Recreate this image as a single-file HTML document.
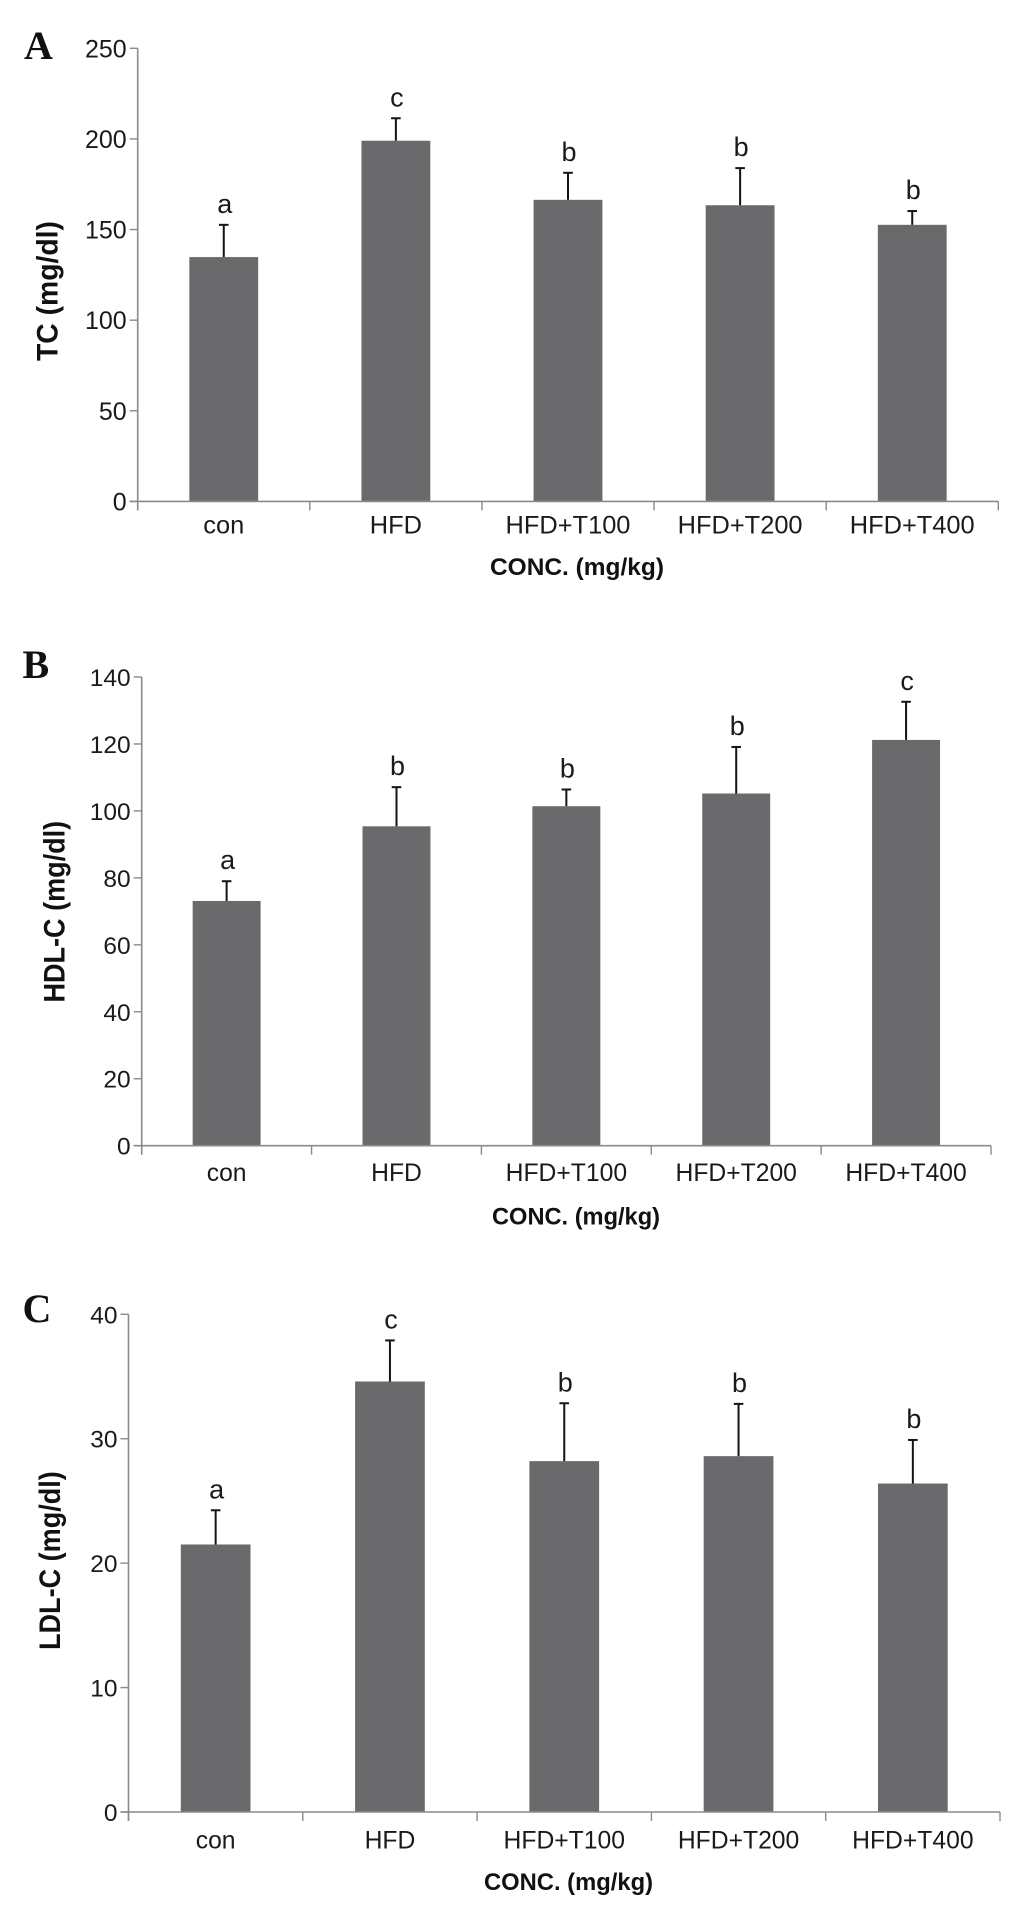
<!DOCTYPE html>
<html>
<head>
<meta charset="utf-8">
<title>Lipid profile bar charts</title>
<style>
html,body{margin:0;padding:0;background:#fff;width:1036px;height:1908px;overflow:hidden}
svg{display:block}
text{font-family:"Liberation Sans",Arial,sans-serif;fill:#1a1a1a}
</style>
</head>
<body>
<svg id="figure" width="1036" height="1908" viewBox="0 0 1036 1908" xmlns="http://www.w3.org/2000/svg"></svg>
<script>
// Shared categories
const categories = ["con", "HFD", "HFD+T100", "HFD+T200", "HFD+T400"];
const significance_tc = ["a", "c", "b", "b", "b"];
const significance_hdl = ["a", "b", "b", "b", "c"];
const significance_ldl = ["a", "c", "b", "b", "b"];

// Panel A: TC
const tcTicks = [0, 50, 100, 150, 200, 250];
const tcMeans = [134.8, 199, 166.4, 163.4, 152.6];
const tcUpper = [152.6, 211.4, 181.3, 183.9, 160.2];

// Panel B: HDL-C
const hdlTicks = [0, 20, 40, 60, 80, 100, 120, 140];
const hdlMeans = [73.1, 95.4, 101.4, 105.2, 121.2];
const hdlUpper = [79, 107.1, 106.4, 119.1, 132.6];

// Panel C: LDL-C
const ldlTicks = [0, 10, 20, 30, 40];
const ldlMeans = [21.5, 34.6, 28.2, 28.6, 26.4];
const ldlUpper = [24.25, 37.9, 32.85, 32.8, 29.9];

const svg = document.getElementById("figure");
const NS = "http://www.w3.org/2000/svg";
const AXIS = "#8a8a8a", BAR = "#6a6a6d", ERR = "#141414";

function mk(tag, parent, props, content) {
  const e = document.createElementNS(NS, tag);
  for (const k in props) e.setAttribute(k, props[k]);
  if (content !== undefined) e.textContent = content;
  parent.appendChild(e);
  
  return e;
}

function drawPanel(p) {
  const g = mk("g", svg, {});
  

  const maxV = p.ticks[p.ticks.length - 1];
  const yScale = v => p.y0 - (v / maxV) * (p.y0 - p.yTop);
  const xBand = i => p.x0 + (i / categories.length) * (p.x1 - p.x0);
  const bandW = (p.x1 - p.x0) / categories.length;
  const barW = bandW * 0.4;

  const letter = mk("text", g, {
    x: p.letterX, y: p.letterY,
    "font-size": 40, "font-weight": "bold",
    style: 'font-family:"Liberation Serif",serif;fill:#111'
  }, p.id);
  

  // Bars
  p.means.forEach((v, i) => {
    const cx = xBand(i) + bandW / 2;
    const top = yScale(v);
    const bar = mk("rect", g, { x: cx - barW / 2, y: top, width: barW, height: p.y0 - top, fill: BAR });
    

    const upper = yScale(p.upper[i]);
    const stem = mk("line", g, { x1: cx, x2: cx, y1: top, y2: upper, stroke: ERR, "stroke-width": 2 });
    
    const cap = mk("line", g, { x1: cx - 4.8, x2: cx + 4.8, y1: upper, y2: upper, stroke: ERR, "stroke-width": 2 });
    

    const sig = mk("text", g, {
      x: cx + 1, y: upper - 12,
      "font-size": 27, "text-anchor": "middle"
    }, p.sig[i]);
    
  });

  // Axes
  const yAxis = mk("line", g, { x1: p.x0, x2: p.x0, y1: p.yTop, y2: p.y0 + 9, stroke: AXIS, "stroke-width": 1.6 });
  
  const xAxis = mk("line", g, { x1: p.x0 - 8, x2: p.x1, y1: p.y0, y2: p.y0, stroke: AXIS, "stroke-width": 1.6 });
  

  p.ticks.forEach(t => {
    const y = yScale(t);
    const tick = mk("line", g, { x1: p.x0 - 8, x2: p.x0, y1: y, y2: y, stroke: AXIS, "stroke-width": 1.4 });
    
    const lab = mk("text", g, {
      x: p.x0 - 11, y: y + 9,
      "font-size": p.tickFont, "text-anchor": "end"
    }, String(t));
    
  });

  for (let i = 0; i <= categories.length; i++) {
    const x = xBand(i);
    const tick = mk("line", g, { x1: x, x2: x, y1: p.y0, y2: p.y0 + 9, stroke: AXIS, "stroke-width": 1.4 });
    
  }

  categories.forEach((c, i) => {
    const lab = mk("text", g, {
      x: xBand(i) + bandW / 2, y: p.catY,
      "font-size": p.catFont, "text-anchor": "middle"
    }, c);
    
  });

  const xTitle = mk("text", g, {
    x: p.xTitleX, y: p.xTitleY, "font-size": 24.5, "font-weight": "bold",
    textLength: p.xTitleLen, lengthAdjust: "spacingAndGlyphs", style: "fill:#111"
  }, "CONC. (mg/kg)");
  

  const yTitle = mk("text", g, {
    transform: "translate(" + p.yTitleX + "," + p.yTitleY + ") rotate(-90) scale(1,1.05)",
    "font-size": 28, "font-weight": "bold",
    textLength: p.yTitleLen, lengthAdjust: "spacingAndGlyphs", style: "fill:#111"
  }, p.yTitle);
  
}

drawPanel({ id: "A", ticks: tcTicks, means: tcMeans, upper: tcUpper, sig: significance_tc,
  x0: 137.7, x1: 998.3, y0: 501.4, yTop: 48.3, letterX: 24, letterY: 59, catY: 533.3, catFont: 25.4, tickFont: 25,
  xTitleX: 490, xTitleY: 575, xTitleLen: 174, yTitleX: 57.7, yTitleY: 361, yTitleLen: 140, yTitle: "TC (mg/dl)" });

drawPanel({ id: "B", ticks: hdlTicks, means: hdlMeans, upper: hdlUpper, sig: significance_hdl,
  x0: 141.7, x1: 991, y0: 1145.7, yTop: 677, letterX: 22.5, letterY: 678, catY: 1181, catFont: 24.7, tickFont: 24.5,
  xTitleX: 492, xTitleY: 1224.5, xTitleLen: 168, yTitleX: 64.3, yTitleY: 1002.5, yTitleLen: 181.7, yTitle: "HDL-C (mg/dl)" });

drawPanel({ id: "C", ticks: ldlTicks, means: ldlMeans, upper: ldlUpper, sig: significance_ldl,
  x0: 128.5, x1: 1000, y0: 1812, yTop: 1314.3, letterX: 22.5, letterY: 1322, catY: 1848.3, catFont: 24.7, tickFont: 24.5,
  xTitleX: 484, xTitleY: 1890, xTitleLen: 169, yTitleX: 60, yTitleY: 1650, yTitleLen: 178.8, yTitle: "LDL-C (mg/dl)" });
</script>
</body>
</html>
